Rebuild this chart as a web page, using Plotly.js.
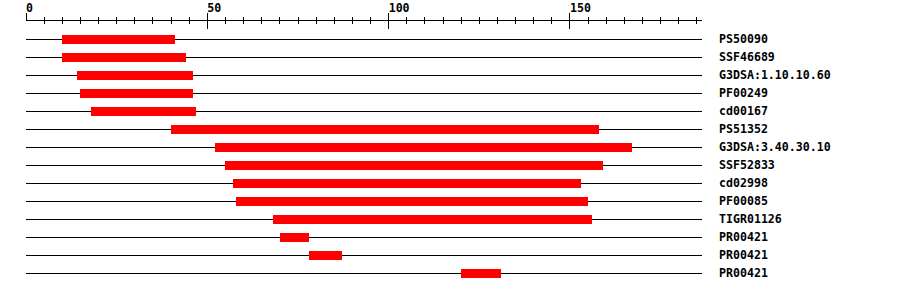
<!DOCTYPE html>
<html>
<head>
<meta charset="utf-8">
<script src="https://cdn.plot.ly/plotly-3.0.1.min.js"></script>
<style>
  html, body { margin: 0; padding: 0; background: #ffffff; }
  #chart { width: 900px; height: 292px; }
</style>
</head>
<body>
<div id="chart"></div>
<script>
// ---- data ----
const names = ["PS50090", "SSF46689", "G3DSA:1.10.10.60", "PF00249", "cd00167",
               "PS51352", "G3DSA:3.40.30.10", "SSF52833", "cd02998", "PF00085",
               "TIGR01126", "PR00421", "PR00421", "PR00421"];
const starts = [10, 10, 14, 15, 18, 40, 52, 55, 57, 58, 68, 70, 78, 120];
const ends   = [41, 44, 46, 46, 47, 158, 167, 159, 153, 155, 156, 78, 87, 131];
const seqLength = 186.4;
const majorTicks = [0, 50, 100, 150];
const majorTickLabels = ["0", "50", "100", "150"];

// ---- build ----
const rows = names.map((_, i) => i);
const NBSP = "\u00a0";
const paddedTickText = majorTickLabels.map(t => NBSP.repeat(t.length) + t);
const font = { family: "DejaVu Sans Mono", size: 11.6, color: "#000000" };

const bars = {
  type: "bar",
  orientation: "h",
  y: rows,
  base: starts,
  x: ends.map((e, i) => e - starts[i]),
  width: 0.5,
  marker: { color: "#ff0000", line: { width: 0 } },
  hoverinfo: "skip",
  xaxis: "x",
  yaxis: "y"
};

// invisible trace so the mirrored inside-tick axis is drawn
const ghost = {
  type: "scatter", mode: "markers", x: [0], y: [0],
  marker: { opacity: 0 }, hoverinfo: "skip", xaxis: "x2", yaxis: "y", showlegend: false
};

const axisCommon = {
  range: [0, seqLength],
  showgrid: false,
  zeroline: false,
  tickmode: "array",
  tickvals: majorTicks,
  ticklen: 7,
  tickwidth: 1,
  tickcolor: "#000000",
  minor: { dtick: 5, ticklen: 3, tickwidth: 1, tickcolor: "#000000", showgrid: false },
  fixedrange: true
};

const layout = {
  width: 900,
  height: 292,
  margin: { l: 26, r: 198, t: 21, b: 1, pad: 0 },
  paper_bgcolor: "#ffffff",
  plot_bgcolor: "#ffffff",
  showlegend: false,
  bargap: 0,
  xaxis: Object.assign({}, axisCommon, {
    side: "top",
    ticks: "outside",
    ticktext: paddedTickText.map(t => "<b>" + t + "</b>"),
    tickfont: font,
    ticklabelstandoff: -4,
    showline: true,
    linecolor: "#000000",
    linewidth: 1,
    minor: Object.assign({}, axisCommon.minor, { ticks: "outside" })
  }),
  xaxis2: Object.assign({}, axisCommon, {
    overlaying: "x",
    matches: "x",
    side: "top",
    ticks: "inside",
    ticklen: 8,
    showticklabels: false,
    showline: false,
    minor: Object.assign({}, axisCommon.minor, { ticks: "inside" })
  }),
  yaxis: {
    range: [14, -1],
    side: "right",
    tickmode: "array",
    tickvals: rows,
    ticktext: names.map(n => "<b>" + n + "</b>"),
    tickfont: font,
    ticks: "",
    ticklabelstandoff: 16,
    showgrid: true,
    gridcolor: "#000000",
    gridwidth: 1,
    zeroline: false,
    showline: false,
    fixedrange: true
  }
};

Plotly.newPlot("chart", [bars, ghost], layout, { displayModeBar: false, staticPlot: true });
</script>
</body>
</html>
